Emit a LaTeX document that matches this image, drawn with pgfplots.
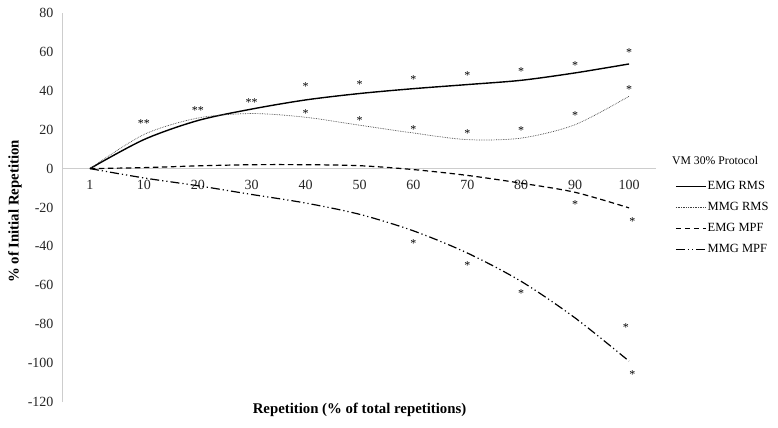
\documentclass[border=0pt]{standalone}
\usepackage{pgfplots}
\pgfplotsset{compat=1.18}
\usepackage{fontspec}
\setmainfont{Liberation Serif}
\definecolor{axgray}{RGB}{205,205,205}
\begin{document}
\begin{tikzpicture}
\begin{axis}[
  scale only axis,
  width=593bp, height=389bp,
  xmin=-0.5, xmax=10.5,
  ymin=-120, ymax=80,
  axis x line=middle,
  axis y line=left,
  axis line style={-, draw=axgray, line width=1bp},
  xtick={0,1,2,3,4,5,6,7,8,9,10},
  xticklabels={1,10,20,30,40,50,60,70,80,90,100},
  ytick={-120,-100,-80,-60,-40,-20,0,20,40,60,80},
  major tick length=0pt,
  /pgf/number format/assume math mode=true,
  tick label style={font=\fontsize{14bp}{16bp}\selectfont, text=black!85},
  xticklabel style={yshift=-8bp},
  yticklabel style={xshift=-6bp},
  xlabel={\textbf{Repetition (\% of total repetitions)}},
  ylabel={\textbf{\% of Initial Repetition}},
  label style={font=\fontsize{14.8bp}{17bp}\selectfont},
  xlabel style={at={(axis description cs:0.5,-0.021)}, anchor=center},
  ylabel style={at={(axis description cs:-0.081,0.49)}, anchor=center, rotate=0},
  clip=false,
  legend style={draw=none, fill=none, at={(axis description cs:1.0325,0.5695)}, anchor=north west,
    row sep=9.2bp, inner sep=0pt, outer sep=0pt,
    nodes={inner sep=1bp, font=\fontsize{12.5bp}{14bp}\selectfont}},
  legend cell align=left,
  legend image code/.code={\draw[#1] (0bp,0bp) -- (30bp,0bp);},
]
\addplot[black, line width=1.4bp, smooth, tension=0.5] coordinates {
(0,0) (1,14.9) (2,24.7) (3,30.6) (4,35.3) (5,38.6) (6,41.1) (7,43.2) (8,45.4) (9,49.2) (10,53.8)};
\addlegendentry{EMG RMS}
\addplot[black!75, line width=0.7bp, densely dotted, smooth, tension=0.5] coordinates {
(0,0) (1,17.5) (2,26) (3,28.3) (4,26.4) (5,22.3) (6,18.3) (7,14.9) (8,15.7) (9,22.6) (10,37.2)};
\addlegendentry{MMG RMS}
\addplot[black, line width=1.2bp, dash pattern=on 5.5bp off 3.5bp, smooth, tension=0.5] coordinates {
(0,0) (1,0.5) (2,1.4) (3,2) (4,2) (5,1.5) (6,-0.5) (7,-3.5) (8,-7.5) (9,-12.2) (10,-20.2)};
\addlegendentry{EMG MPF}
\addplot[black, line width=1.2bp, dash pattern=on 9bp off 3bp on 1.2bp off 3bp on 1.2bp off 3bp, smooth, tension=0.5] coordinates {
(0,0) (1,-4.8) (2,-8.8) (3,-13.3) (4,-17.7) (5,-23.5) (6,-32) (7,-43.4) (8,-58) (9,-76.8) (10,-99)};
\addlegendentry{MMG MPF}
% significance markers
\addplot[draw=none, mark=none, forget plot, nodes near coords, point meta=explicit symbolic,
  nodes near coords align={center},
  every node near coord/.append style={font=\fontsize{12bp}{14bp}\selectfont, inner sep=0pt, anchor=center, black}]
coordinates {
(1,23) [**] (2,30) [**] (3,34) [**]
(4,42.2) [*] (4,28.5) [*]
(5,43) [*] (5,24.7) [*]
(6,45.6) [*] (6,19.9) [*]
(7,47.8) [*] (7,18.2) [*]
(8,49.9) [*] (8,19.4) [*]
(9,52.8) [*] (9,27.1) [*]
(10,59.7) [*] (10,40.8) [*]
(9,-18.7) [*] (10.06,-27.2) [*]
(6,-38.4) [*] (7,-49.8) [*] (8,-64.4) [*] (9.94,-81.6) [*] (10.06,-105.7) [*]
};
\node[anchor=west, font=\fontsize{11.7bp}{14bp}\selectfont, inner sep=0pt] at (axis description cs:1.027,0.62) {VM 30\% Protocol};
\end{axis}
\pgfresetboundingbox
\path ([shift={(-63bp,-26bp)}]current axis.south west) rectangle ([shift={(122bp,13bp)}]current axis.north east);
\end{tikzpicture}
\end{document}
